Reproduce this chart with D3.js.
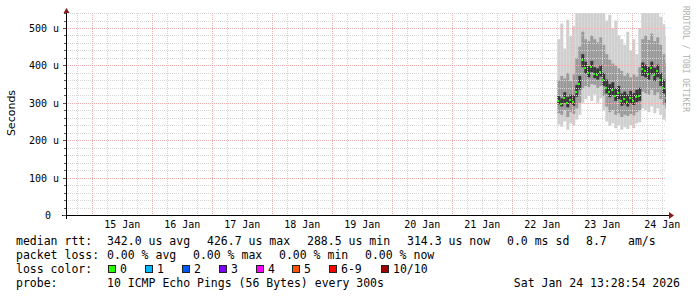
<!DOCTYPE html>
<meta charset="utf-8">
<style>
body{margin:0;background:#fff}
text{font-family:"DejaVu Sans Mono",monospace;fill:#000}
.grid line{shape-rendering:crispEdges;stroke-dasharray:1,1}
</style>
<body>
<script src="https://d3js.org/d3.v7.min.js"></script>
<script>

// smoke samples, microseconds, one every 72 min from 22 Jan 18:00
var sampleStart = Date.UTC(2026,0,22,18,0,0);
var sampleStepMin = 72;
var rttMedian = [305,298,312,300,308,302,330,350,415,392,380,395,378,375,382,360,340,330,335,318,325,305,310,302,312,306,315,318,390,385,378,392,375,385,360,340,314];
var rttMin    = [242,236,250,228,245,238,255,268,300,310,318,305,322,300,312,280,250,238,245,232,240,228,235,230,240,232,245,248,285,280,275,290,272,285,268,255,250];
var rttP20    = [272,268,280,262,275,270,285,300,340,345,342,350,348,340,345,318,290,275,280,268,272,262,268,265,270,266,275,280,330,325,322,335,320,328,310,295,285];
var rttP40    = [296,290,300,288,298,292,316,335,395,378,368,382,366,362,370,345,325,315,320,305,310,292,296,290,298,294,302,305,372,368,362,376,358,368,345,325,300];
var rttP60    = [318,312,328,316,322,320,348,372,430,410,398,412,395,392,400,380,362,350,355,338,345,325,330,322,332,326,335,340,408,402,396,410,394,402,380,362,335];
var rttP80    = [360,372,365,380,358,376,420,450,490,470,465,480,470,462,475,455,430,415,405,400,392,385,372,380,368,376,370,395,470,480,468,485,465,475,455,430,405];
var rttMax    = [470,512,445,522,478,505,540,545,545,545,545,545,545,545,545,540,520,535,500,520,480,470,455,490,440,470,430,500,545,545,545,545,540,545,530,510,480];

var yTicks = [0,100,200,300,400,500];
var xTickDays = [15,16,17,18,19,20,21,22,23,24];

var statRows = [
  {label:"median rtt:", items:["342.0 us avg","426.7 us max","288.5 us min","314.3 us now","0.0 ms sd","8.7","am/s"]},
  {label:"packet loss:", items:["0.00 % avg","0.00 % max","0.00 % min","0.00 % now"]},
  {label:"probe:", items:["10 ICMP Echo Pings (56 Bytes) every 300s"]}
];
var lossLabels = ["0","1","2","3","4","5","6-9","10/10"];
var lossColors = ["#26ff00","#00b8ff","#0059ff","#7e00ff","#ff00ff","#ff5500","#ff0000","#a10000"];
var stamp = "Sat Jan 24 13:28:54 2026";

var W=697, H=297;
var tEnd = Date.UTC(2026,0,24,13,28,54), tStart = tEnd - 10*864e5;

var svg = d3.select("body").append("svg").attr("width",W).attr("height",H);
var x = d3.scaleUtc().domain([tStart,tEnd]).range([66,666]);
var y = d3.scaleLinear().domain([0,500]).range([215,28]);
var yTop = 13;

svg.append("clipPath").attr("id","plot").append("rect")
  .attr("x",66).attr("y",yTop).attr("width",600).attr("height",215-yTop);

// smoke
var samples = rttMedian.map(function(m,i){
  return {t: sampleStart + i*sampleStepMin*6e4, med:m, i:i};
});
var layers = [[rttMin,rttMax,"#cfcfcf"],[rttP20,rttP80,"#9a9a9a"],[rttP40,rttP60,"#363636"]];
var g = svg.append("g").attr("clip-path","url(#plot)");
layers.forEach(function(L){
  g.append("g").selectAll("rect").data(samples).join("rect")
    .attr("x",d=>x(d.t))
    .attr("width",d=>x(d.t+sampleStepMin*6e4)-x(d.t))
    .attr("y",d=>y(L[1][d.i]))
    .attr("height",d=>y(L[0][d.i])-y(L[1][d.i]))
    .attr("fill",L[2]);
});

// grid
var grid = svg.append("g").attr("class","grid");
var minorY = d3.range(20,541,20).filter(v=>v%100);
grid.selectAll(".hy").data(minorY).join("line")
  .attr("x1",66).attr("x2",666).attr("y1",d=>Math.round(y(d))+0.5).attr("y2",d=>Math.round(y(d))+0.5)
  .attr("stroke","#d6d6d6");
var sixH = d3.utcHour.every(6).range(new Date(tStart),new Date(tEnd)).filter(d=>d.getUTCHours());
grid.selectAll(".vx").data(sixH).join("line")
  .attr("y1",yTop).attr("y2",215).attr("x1",d=>Math.round(x(d))+0.5).attr("x2",d=>Math.round(x(d))+0.5)
  .attr("stroke","#d6d6d6");
grid.selectAll(".my").data(yTicks.slice(1)).join("line")
  .attr("x1",66).attr("x2",666).attr("y1",d=>Math.round(y(d))+0.5).attr("y2",d=>Math.round(y(d))+0.5)
  .attr("stroke","#f2b0b0");
var days = d3.utcDay.range(new Date(tStart),new Date(tEnd));
grid.selectAll(".mx").data(days).join("line")
  .attr("y1",yTop).attr("y2",215).attr("x1",d=>Math.round(x(d))+0.5).attr("x2",d=>Math.round(x(d))+0.5)
  .attr("stroke","#f2b0b0");

// median, coloured by loss
svg.append("g").attr("clip-path","url(#plot)").selectAll("rect").data(samples).join("rect")
  .attr("x",d=>Math.round(x(d.t))).attr("width",2)
  .attr("y",d=>Math.round(y(d.med))-1).attr("height",2)
  .attr("fill",lossColors[0]);

// axes
svg.append("line").attr("x1",62).attr("x2",670).attr("y1",215.5).attr("y2",215.5).attr("stroke","#000");
svg.append("line").attr("x1",66.5).attr("x2",66.5).attr("y1",219).attr("y2",11).attr("stroke","#000");
svg.selectAll(".tk").data(d3.range(0,541,20)).join("line")
  .attr("x1",d=>d%100?64:63).attr("x2",66).attr("y1",d=>Math.round(y(d))+0.5).attr("y2",d=>Math.round(y(d))+0.5)
  .attr("stroke","#555");
svg.append("path").attr("d","M669,212L674,215.5L669,219Z").attr("fill","#8b1a1a");
svg.append("path").attr("d","M63.5,13L66.5,8L69.5,13Z").attr("fill","#8b1a1a");

svg.selectAll(".yl").data(yTicks).join("text")
  .attr("x",d=>d?59:51).attr("y",d=>Math.round(y(d))+4)
  .attr("text-anchor","end").style("font-size","10px")
  .text(d=>d?d+" u":"0");
var fmt = d3.utcFormat("%d %b");
svg.selectAll(".xl").data(xTickDays).join("text")
  .attr("x",d=>x(Date.UTC(2026,0,d,12))).attr("y",228)
  .attr("text-anchor","middle").style("font-size","10px")
  .text(d=>fmt(new Date(Date.UTC(2026,0,d))));

svg.append("text").attr("transform","translate(15,113) rotate(-90)")
  .attr("text-anchor","middle").style("font-family","'DejaVu Sans',sans-serif").style("font-size","11px")
  .text("Seconds");
svg.append("text").attr("transform","translate(683,59) rotate(90)")
  .attr("text-anchor","middle").style("font-size","8px").style("fill","#b0b0b0")
  .text("RRDTOOL / TOBI OETIKER");

// legend
var lf = "11.5px";
var rowY = [245,259,287];
var itemX = [[107,207,307,407,507,586,628],[107,193,279,365],[107]];
statRows.forEach(function(r,k){
  svg.append("text").attr("x",16).attr("y",rowY[k]).style("font-size",lf).text(r.label);
  r.items.forEach(function(s,j){
    svg.append("text").attr("x",itemX[k][j]).attr("y",rowY[k]).style("font-size",lf).text(s);
  });
});
svg.append("text").attr("x",16).attr("y",273).style("font-size",lf).text("loss color:");
var boxX = [108,145,182,219,256,292,329,381];
lossLabels.forEach(function(l,j){
  svg.append("rect").attr("x",boxX[j]+0.5).attr("y",265.5).attr("width",7).attr("height",7)
    .attr("fill",lossColors[j]).attr("stroke","#222");
  svg.append("text").attr("x",boxX[j]+12).attr("y",273).style("font-size",lf).text(l);
});
svg.append("text").attr("x",680).attr("y",287).attr("text-anchor","end").style("font-size",lf).text(stamp);
</script>
</body>
</html>
